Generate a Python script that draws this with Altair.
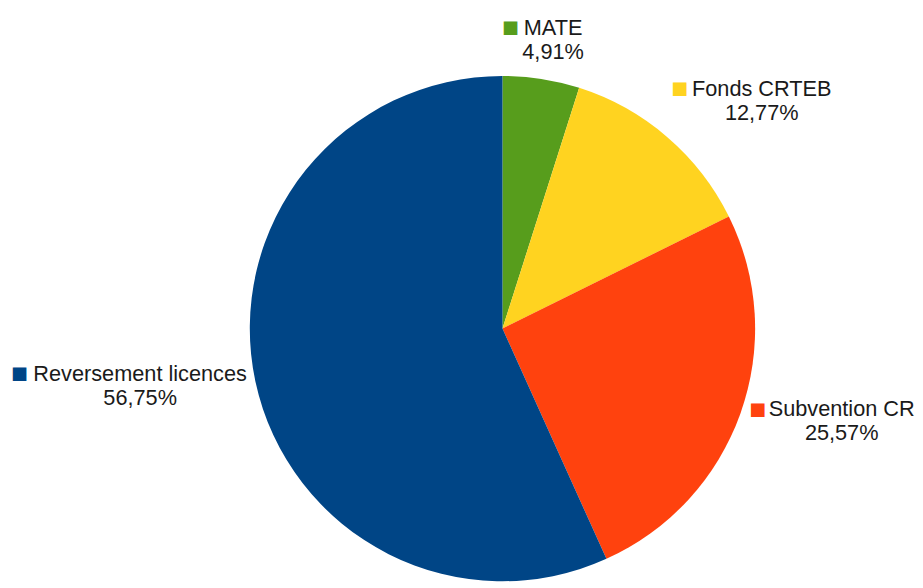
import altair as alt
import pandas as pd

categories = ["MATE", "Fonds CRTEB", "Subvention CR", "Reversement licences"]
percents = [4.91, 12.77, 25.57, 56.75]
colors = ["#579d1c", "#ffd320", "#ff420e", "#004586"]

df = pd.DataFrame({"cat": categories, "pct": percents, "order": list(range(len(categories)))})
df["label"] = [c + "\n" + f"{p:.2f}".replace(".", ",") + "%" for c, p in zip(categories, percents)]
df["sq"] = "■"

CX, CY = 501, 321
R = 256
LR = 262

theta_scale = alt.Scale(domain=[0, 100])
color = alt.Color("cat:N", scale=alt.Scale(domain=categories, range=colors), legend=None)

pie = alt.Chart(df).mark_arc(outerRadius=R, stroke=None).encode(
    theta=alt.Theta("pct:Q", stack=True, scale=theta_scale),
    order=alt.Order("order:Q"),
    color=color,
    x=alt.value(CX),
    y=alt.value(CY),
)

stacked = alt.Chart(df).transform_stack(
    stack="pct", groupby=[], as_=["s0", "s1"], sort=[alt.SortField("order")]
).transform_calculate(mid="(datum.s0 + datum.s1) / 2")

# per-label offsets: (text dx, text dy, square dx, square dy)
offsets = {
    "MATE": (11, -39, -32, -46),
    "Fonds CRTEB": (92, -37, 9, -44),
    "Subvention CR": (97, 0, 12, -6),
    "Reversement licences": (-111, -2, -233, -9),
}

layers = [pie]
for cat, (tdx, tdy, sdx, sdy) in offsets.items():
    src = stacked.transform_filter(alt.datum.cat == cat)
    txt = src.mark_text(
        radius=LR, align="center", baseline="alphabetic", dx=tdx, dy=tdy,
        fontSize=22, lineHeight=24.5, lineBreak="\n", font="Liberation Sans", color="#1a1a1a",
    ).encode(
        theta=alt.Theta("mid:Q", stack=None, scale=theta_scale),
        text="label:N",
        x=alt.value(CX),
        y=alt.value(CY),
    )
    sq = src.mark_text(
        radius=LR, align="center", baseline="middle", dx=sdx, dy=sdy,
        fontSize=18, font="DejaVu Sans",
    ).encode(
        theta=alt.Theta("mid:Q", stack=None, scale=theta_scale),
        text="sq:N",
        color=color,
        x=alt.value(CX),
        y=alt.value(CY),
    )
    layers += [txt, sq]

chart = alt.layer(*layers).properties(width=912, height=576, padding=0).configure_view(strokeWidth=0)
chart.save("out.html", embed_options={"renderer": "svg", "actions": False})
